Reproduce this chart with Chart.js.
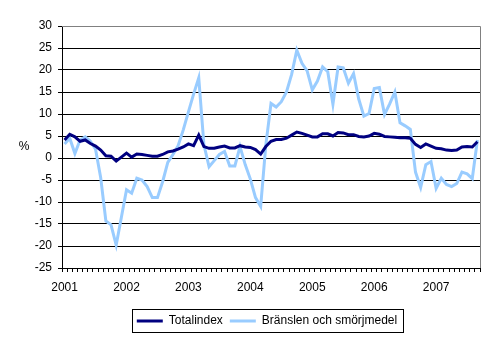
<!DOCTYPE html>
<html>
<head>
<meta charset="utf-8">
<script src="https://cdn.jsdelivr.net/npm/chart.js@4.4.1/dist/chart.umd.min.js"></script>
<style>
  body { margin: 0; background: #fff; }
</style>
</head>
<body>
<canvas id="priceChart" width="495" height="342"></canvas>
<script>
// tick labels on the x axis (one per January)
const yearLabels = ['2001', '2002', '2003', '2004', '2005', '2006', '2007'];
const monthsShownLastYear = 9;

// categories: one per month, Jan 2001 - Sep 2007
const categories = [];
yearLabels.forEach((y, i) => {
  const n = i === yearLabels.length - 1 ? monthsShownLastYear : 12;
  for (let m = 1; m <= n; m++) categories.push(y + 'M' + String(m).padStart(2, '0'));
});

const seriesNames = ['Totalindex', 'Bränslen och smörjmedel'];

// annual change, %
const totalindex = [
  4.1, 5.4, 4.8, 3.8, 4.1, 3.3, 2.7, 1.8, 0.5, 0.4, -0.7, 0.2,
  1.1, 0.2, 0.9, 0.8, 0.6, 0.4, 0.4, 0.8, 1.4, 1.6, 2.0, 2.5,
  3.2, 2.8, 5.2, 2.6, 2.2, 2.2, 2.5, 2.7, 2.3, 2.3, 2.8, 2.5,
  2.4, 1.9, 0.9, 2.6, 3.8, 4.2, 4.2, 4.5, 5.2, 5.9, 5.6, 5.2,
  4.8, 4.8, 5.5, 5.5, 5.0, 5.8, 5.7, 5.3, 5.3, 4.9, 4.8, 5.0,
  5.6, 5.4, 4.9, 4.8, 4.7, 4.6, 4.6, 4.5, 3.1, 2.4, 3.2, 2.7,
  2.2, 2.1, 1.8, 1.7, 1.8, 2.5, 2.6, 2.5, 3.7
];
const branslen = [
  3.2, 4.5, 1.0, 4.1, 4.8, 3.8, 2.0, -4.5, -14.3, -15.2, -19.8, -13.5,
  -7.2, -8.0, -4.6, -5.0, -6.5, -9.0, -9.0, -5.4, -1.0, 0.8, 2.8, 6.4,
  10.5, 14.5, 18.2, 3.0, -2.0, -0.6, 0.8, 1.5, -1.8, -1.8, 2.6, -1.5,
  -4.8, -9.0, -11.0, 3.0, 12.4, 11.6, 12.8, 15.0, 19.0, 24.5, 21.5, 19.8,
  15.5, 17.5, 20.7, 19.6, 12.2, 20.7, 20.5, 17.0, 19.2, 13.4, 9.5, 10.1,
  15.8, 16.0, 9.9, 12.3, 15.0, 8.0, 7.3, 6.5, -3.2, -6.7, -1.5, -0.8,
  -6.9, -4.6, -6.0, -6.5, -5.8, -3.2, -3.6, -4.7, 4.1
];

const FONT = { family: '"Liberation Sans", Arial, sans-serif', size: 12 };

// grey frame on top/right, legend border and the "%" label
const extras = {
  id: 'extras',
  afterLayout(chart) {
    // Excel centres the legend a bit right of the canvas middle
    chart.legend.left += 27;
    chart.legend.right += 27;
  },
  afterDraw(chart) {
    const { ctx, chartArea: a } = chart;
    ctx.save();
    ctx.lineWidth = 1;
    ctx.strokeStyle = '#808080';
    ctx.beginPath();
    ctx.moveTo(a.left, a.top + 0.5);
    ctx.lineTo(a.right + 0.5, a.top + 0.5);
    ctx.lineTo(a.right + 0.5, a.bottom);
    ctx.stroke();

    const hb = chart.legend.legendHitBoxes;
    if (hb && hb.length) {
      const last = hb[hb.length - 1];
      const x0 = Math.round(hb[0].left) - 4.5;
      const x1 = Math.round(last.left + last.width) + 6.5;
      const y0 = Math.round(hb[0].top) - 5.5;
      const y1 = Math.round(hb[0].top + hb[0].height) + 5.5;
      ctx.strokeStyle = '#000';
      ctx.strokeRect(x0, y0, x1 - x0, y1 - y0);
    }

    ctx.fillStyle = '#000';
    ctx.font = FONT.size + 'px ' + FONT.family;
    ctx.textAlign = 'center';
    ctx.textBaseline = 'middle';
    ctx.fillText('%', 24, 147);
    ctx.restore();
  }
};

new Chart(document.getElementById('priceChart'), {
  type: 'line',
  data: {
    labels: categories,
    datasets: [
      { label: seriesNames[0], data: totalindex, borderColor: '#000080', backgroundColor: '#000080',
        borderWidth: 3, pointRadius: 0, tension: 0, order: 1 },
      { label: seriesNames[1], data: branslen, borderColor: '#99CCFF', backgroundColor: '#99CCFF',
        borderWidth: 3, pointRadius: 0, tension: 0, order: 2 }
    ]
  },
  options: {
    responsive: false,
    animation: false,
    devicePixelRatio: 1,
    layout: { padding: { top: 26, right: 15, bottom: 5, left: 0 } },
    plugins: {
      tooltip: { enabled: false },
      legend: {
        position: 'bottom',
        labels: {
          boxWidth: 26,
          boxHeight: 3,
          padding: 7,
          color: '#000',
          font: FONT,
          generateLabels(chart) {
            return Chart.defaults.plugins.legend.labels.generateLabels(chart)
              .map(l => Object.assign(l, { lineWidth: 0 }));
          }
        }
      }
    },
    scales: {
      x: {
        offset: true,
        afterFit(scale) { scale.height = 40; },
        grid: { offset: true, drawOnChartArea: false, drawTicks: true, tickLength: 4, color: '#000' },
        border: { color: '#000', width: 1 },
        ticks: {
          autoSkip: false,
          maxRotation: 0,
          minRotation: 0,
          padding: 8,
          color: '#000',
          font: FONT,
          callback(value, index) {
            return index % 12 === 0 ? yearLabels[index / 12] : '';
          }
        }
      },
      y: {
        min: -25,
        max: 30,
        afterFit(scale) { scale.width = 62; },
        grid: {
          color: ctx => (ctx.tick && ctx.tick.value === 30 ? '#808080' : '#000'),
          tickColor: '#000',
          tickLength: 4
        },
        border: { color: '#000', width: 1 },
        ticks: { stepSize: 5, padding: 6, color: '#000', font: FONT }
      }
    }
  },
  plugins: [extras]
});
</script>
</body>
</html>
